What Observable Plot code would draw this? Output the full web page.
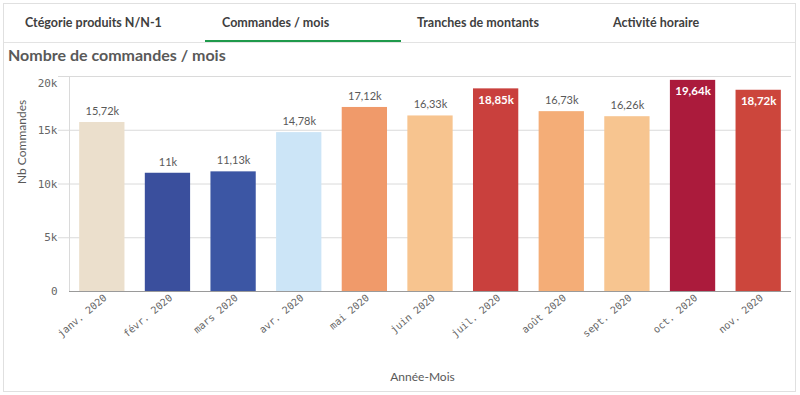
<!DOCTYPE html>
<html>
<head>
<meta charset="utf-8">
<script src="https://cdn.jsdelivr.net/npm/d3@7"></script>
<script src="https://cdn.jsdelivr.net/npm/@observablehq/plot@0.6"></script>
<style>
  html, body { margin: 0; padding: 0; background: #fff; width: 800px; height: 395px; overflow: hidden; }
  #card { position: absolute; left: 3px; top: 3px; width: 793px; height: 389px; border: 1px solid #e0e0e0; box-sizing: border-box; font-family: Lato, "Open Sans", sans-serif; }
  .tab { position: absolute; top: 0; height: 38px; line-height: 38px; font-weight: bold; font-size: 12.5px; color: #404040; }
  #tabline { position: absolute; left: 0; top: 38px; width: 100%; height: 1px; background: #e3e3e3; }
  #active { position: absolute; left: 201px; top: 36px; width: 196px; height: 2px; background: #1f9a4c; }
  #title { position: absolute; left: 4px; top: 41px; font-size: 16px; font-weight: bold; color: #595959; }
  #chart { position: absolute; left: -1px; top: 60px; }
</style>
</head>
<body>
<div id="card">
  <div class="tab" style="left:21px">Ctégorie produits N/N-1</div>
  <div class="tab" style="left:218px">Commandes / mois</div>
  <div class="tab" style="left:413px">Tranches de montants</div>
  <div class="tab" style="left:609px">Activité horaire</div>
  <div id="tabline"></div>
  <div id="active"></div>
  <div id="title">Nombre de commandes / mois</div>
  <div id="chart"></div>
</div>
<script>
const months = ["janv. 2020","févr. 2020","mars 2020","avr. 2020","mai 2020","juin 2020","juil. 2020","août 2020","sept. 2020","oct. 2020","nov. 2020"];
const orders = [15720, 11000, 11130, 14780, 17120, 16330, 18850, 16730, 16260, 19640, 18720];
const barColors = ["#ebdfcc","#3a4f9d","#3c56a4","#cce5f7","#f09a6a","#f7c48f","#c9403d","#f4ad77","#f7c590","#ab1b3c","#cc463c"];
const labelInside = [false,false,false,false,false,false,true,false,false,true,true];
const yTicks = [0, 5000, 10000, 15000, 20000];
const yTickLabels = ["0","5k","10k","15k","20k"];
const xTitle = "Année-Mois";
const yTitle = "Nb Commandes";

const fmt = v => (v / 1000).toString().replace(".", ",") + "k";
const data = months.map((m, i) => ({month: m, value: orders[i], color: barColors[i], inside: labelInside[i], label: fmt(orders[i])}));
const tickLabel = d => yTickLabels[yTicks.indexOf(d)];

const chart = Plot.plot({
  width: 792,
  height: 325,
  marginLeft: 66,
  marginRight: 4,
  marginTop: 12,
  marginBottom: 98,
  style: {fontFamily: "'DejaVu Sans Mono', monospace", fontSize: "10px", color: "#666666", background: "transparent", overflow: "visible"},
  x: {domain: months, paddingInner: 0.31, paddingOuter: 0.155, round: false, label: null},
  y: {domain: [0, 20000], label: null},
  marks: [
    Plot.ruleY(yTicks.slice(1), {stroke: "#dadada", strokeWidth: 1, insetLeft: -11}),
    Plot.barY(data, {x: "month", y: "value", fill: "color"}),
    Plot.ruleY([0], {stroke: "#9a9a9a"}),
    Plot.axisY({ticks: yTicks.slice(0, -1), tickFormat: tickLabel, tickSize: 0, tickPadding: 12, fontSize: 11, label: null}),
    Plot.axisY({ticks: yTicks.slice(-1), tickFormat: tickLabel, tickSize: 0, tickPadding: 12, fontSize: 11, dy: 7, label: null}),
    Plot.axisX({tickSize: 0, tickPadding: 5, tickRotate: -40, fontSize: 10, dx: 3, label: null}),
    Plot.text(data.filter(d => !d.inside), {x: "month", y: "value", text: "label", dy: -11, fill: "#595959", fontFamily: "Lato, sans-serif", fontSize: 11}),
    Plot.text(data.filter(d => d.inside), {x: "month", y: "value", text: "label", dy: 11, fill: "#ffffff", fontWeight: "bold", fontFamily: "Lato, sans-serif", fontSize: 11.5}),
    Plot.text([xTitle], {frameAnchor: "bottom", dy: 89, dx: -8, fill: "#595959", fontFamily: "Lato, sans-serif", fontSize: 12}),
    Plot.text([yTitle], {frameAnchor: "left", dx: -47, rotate: -90, fill: "#595959", fontFamily: "Lato, sans-serif", fontSize: 12})
  ]
});
document.getElementById("chart").appendChild(chart);
// left vertical frame line of the plot area
d3.select(chart).insert("line", ":first-child")
  .attr("x1", 66.5).attr("x2", 66.5).attr("y1", 12).attr("y2", 227)
  .attr("stroke", "#dadada");
</script>
</body>
</html>
